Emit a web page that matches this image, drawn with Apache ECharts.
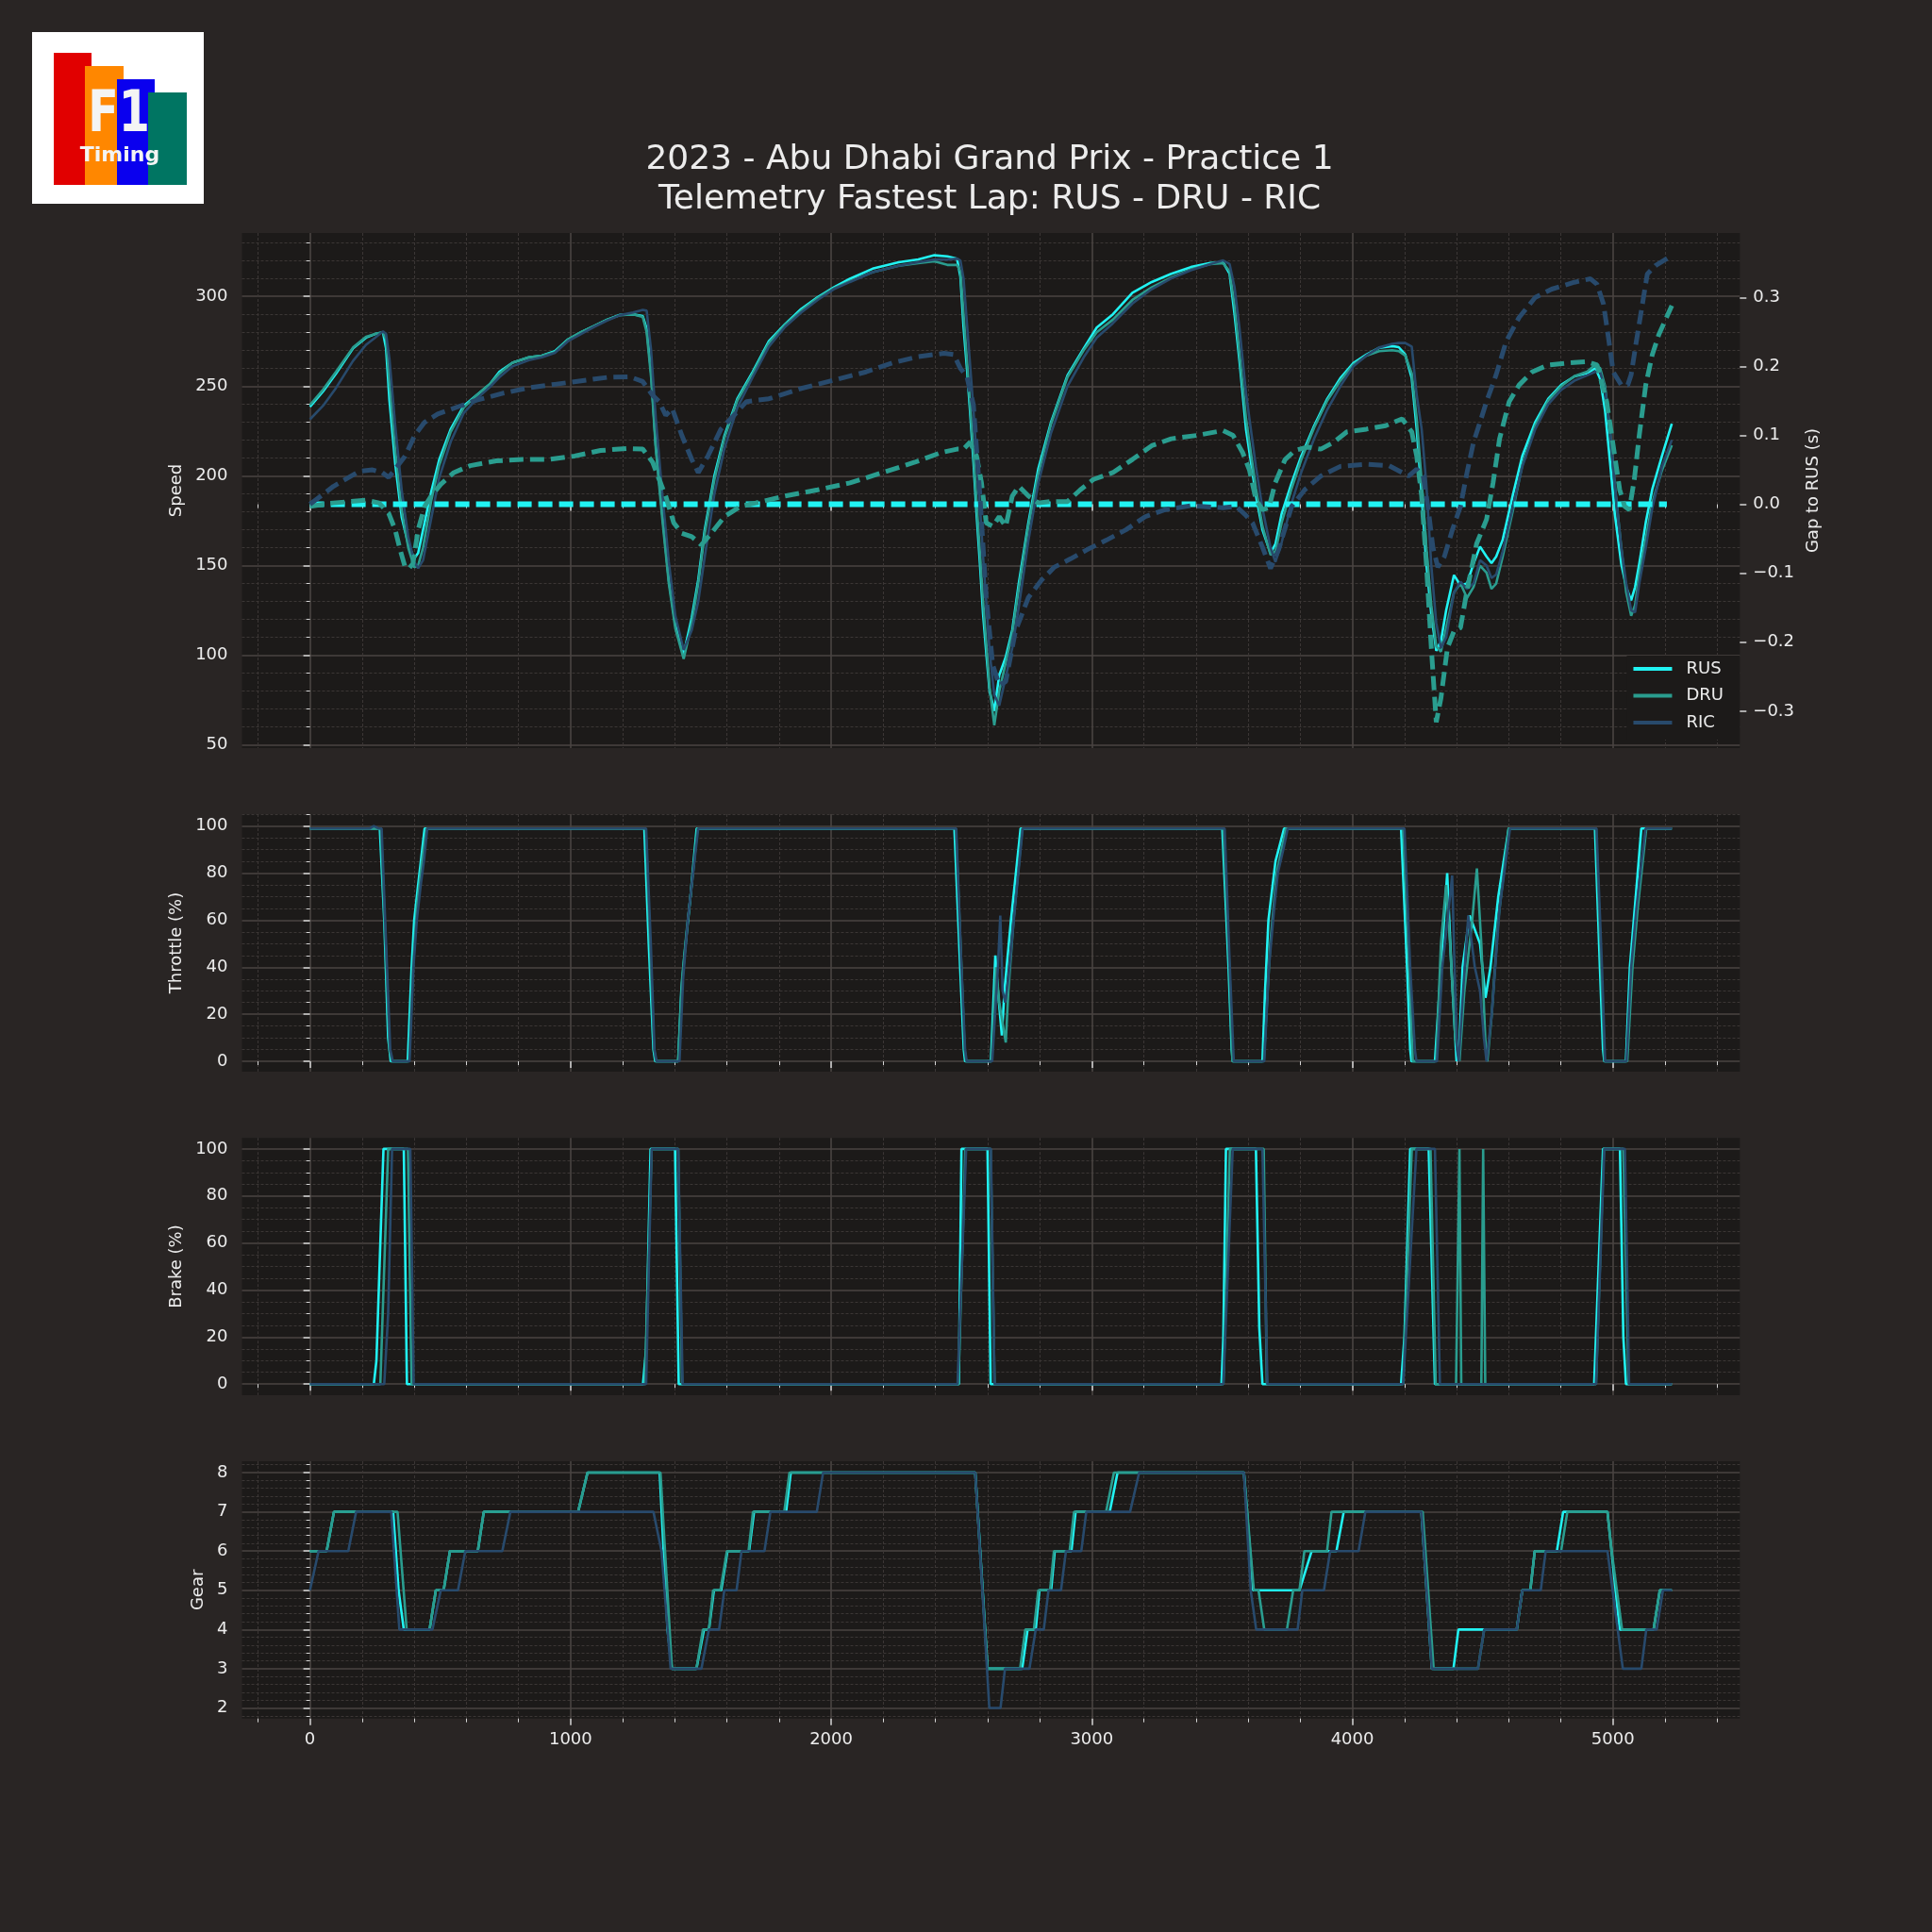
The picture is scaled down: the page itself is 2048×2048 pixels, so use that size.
<!DOCTYPE html>
<html><head><meta charset="utf-8">
<script src="https://cdn.jsdelivr.net/npm/echarts@6/dist/echarts.min.js"></script>
<style>html,body{margin:0;padding:0;background:#292524;}#c{width:2048px;height:2048px;}</style>
</head><body><div id="c"></div>
<script>
// ---------------- DATA ----------------
const drivers = ['RUS', 'DRU', 'RIC'];
const titleLines = ['2023 - Abu Dhabi Grand Prix - Practice 1', 'Telemetry Fastest Lap: RUS - DRU - RIC'];
const axisNames = ['Speed', 'Gap to RUS (s)', 'Throttle (%)', 'Brake (%)', 'Gear'];
const distTicks = [0, 1000, 2000, 3000, 4000, 5000];
const speedTicks = [50, 100, 150, 200, 250, 300];
const gapTicks = [-0.3, -0.2, -0.1, 0, 0.1, 0.2, 0.3];
const pctTicks = [0, 20, 40, 60, 80, 100];
const gearTicks = [2, 3, 4, 5, 6, 7, 8];

const speedDist = [0,50,100,165,215,250,280,292,305,327,
  352,377,400,415,434,465,496,540,590,640,
  690,727,777,840,890,940,990,1040,1090,1140,
  1190,1240,1277,1292,1309,1327,1352,1377,1402,1434,
  1465,1490,1515,1552,1590,1640,1699,1761,1823,1885,
  1948,2010,2072,2159,2259,2334,2396,2446,2483,2496,
  2508,2521,2533,2546,2558,2571,2583,2596,2608,2626,
  2645,2670,2695,2720,2757,2795,2844,2907,2969,3019,
  3081,3156,3230,3305,3380,3455,3504,3529,3548,3567,
  3592,3630,3655,3686,3705,3729,3767,3804,3854,3904,
  3954,4004,4054,4103,4153,4178,4203,4228,4247,4266,
  4284,4303,4322,4340,4360,4390,4415,4440,4465,4490,
  4515,4534,4552,4577,4615,4652,4702,4752,4802,4852,
  4901,4933,4951,4970,4989,5007,5032,5051,5070,5085,
  5101,5126,5151,5188,5226];
const rusSpeed = [238.5,247,257,271,277,279,280,271,242,207,
  177,162,154,157,170,191,209,226,239,245,
  251,258,263,266,267,269.5,276,280,283.5,287,
  289.7,290,289,282,258,217,179,142,117,100.6,
  121,142,170,200,222,243,258,275,284.5,293,
  299.5,305,309.8,315.4,319,320.6,322.9,322.3,321,311,
  283,260,236,208,179,151,123,100,80,69,
  89,99,114,140,174,204,230,256,271,282.6,
  290,302,308,312.6,316.3,318.6,319,312.6,290,264,
  226,189,170,157,162,179,196,211,228,243,
  254.4,262.9,267.6,271.3,272.3,271.7,267.6,254.4,226,189,
  151,123,102.5,108,125,144.7,139,140,151,160.6,
  155,151.3,155,164.4,188.8,211,230,243,250.7,255.4,
  257.2,260,254,236,207.5,179,151,138,130.6,138,
  151,174,192.5,211,229];
const druSpeed = [239.5,248,258,271.5,277.5,279,280,276,252,214,
  181,160,149,150,160,186,206,224.5,238,245,
  251,257,263,266,267,269,276,280,283.5,287,
  289.5,290,288.5,280,255,215,176,140,115,98,
  118,140,168,198,221,242,257,274,284,292,
  299,304.5,308.5,313.5,317,318.5,319.5,317.5,317.5,314,
  290,265,240,213,185,157,130,105,82,61,
  80,96,112,137,172,201,229,255,270,280,
  287,298,305,310.5,315,318,318.5,314,295,268,
  232,193,172,156,158,174,193,209,227,242,
  253,262,267,269.5,270,269.5,267,257,232,197,
  160,128,105,102,115,135,140,132,138,150,
  146,137,140,155,180,206,228,242,250,255.5,
  258,262,260,250,225,195,160,135,122,128,
  145,165,185,203,217];
const ricSpeed = [231.5,239,249,264,273,277,280.5,279,265,228,
  192,166,152,148.5,153,176,199,219,235,243,
  249.5,255,261,264.5,266,268.5,275,279,283,286.5,
  289.5,291,292.5,292,270,232,190,152,122,103,
  114,130,155,190,215,238,255,272,283,291,
  298,304,308,313.5,317,319,320.5,320.5,321,320,
  310,285,262,237,210,183,155,128,102,78,
  72,88,104,127,164,196,224,250,266,277,
  285,296,304,310,314.5,318,320,318,305,282,
  246,205,182,160,152,163,185,202,221,237,
  250,261,267,271.5,273.5,274,274,272,245,226,
  195,150,118,104,110,135,141,137,140,153,
  150,143,145,158,182,205,226,240,248,253,
  256,258,258,248,225,195,160,140,125,124,
  140,160,182,205,220];

const rusGap = [[0,0],[5207,0]];
const druGap = [[0,-0.003],[90,0.002],[215,0.006],[265,0.002],[302,-0.013],[327,-0.037],[346,-0.066],[365,-0.091],[380,-0.093],[395,-0.086],[415,-0.037],[440,-0.003],[465,0.012],[502,0.029],[552,0.046],[615,0.056],[715,0.063],[815,0.065],[915,0.065],[1015,0.07],[1115,0.078],[1215,0.081],[1277,0.08],[1315,0.061],[1340,0.036],[1365,0.012],[1396,-0.027],[1427,-0.042],[1465,-0.047],[1502,-0.059],[1540,-0.042],[1590,-0.018],[1652,-0.003],[1711,0.002],[1823,0.012],[1948,0.021],[2072,0.031],[2197,0.046],[2321,0.061],[2421,0.075],[2483,0.08],[2508,0.08],[2533,0.09],[2558,0.07],[2577,0.031],[2595,-0.027],[2620,-0.032],[2645,-0.018],[2670,-0.032],[2695,0.012],[2720,0.026],[2757,0.012],[2795,0.002],[2844,0.004],[2907,0.004],[2956,0.021],[3006,0.036],[3081,0.046],[3156,0.065],[3230,0.085],[3305,0.095],[3405,0.1],[3504,0.107],[3542,0.1],[3579,0.075],[3605,0.05],[3630,0.007],[3655,-0.008],[3680,-0.005],[3704,0.031],[3742,0.065],[3779,0.078],[3829,0.083],[3879,0.08],[3929,0.09],[3979,0.105],[4054,0.109],[4128,0.114],[4191,0.124],[4228,0.105],[4247,0.07],[4266,0.012],[4284,-0.086],[4303,-0.208],[4322,-0.316],[4340,-0.281],[4365,-0.208],[4390,-0.184],[4415,-0.179],[4440,-0.125],[4477,-0.057],[4515,-0.022],[4540,0.031],[4565,0.095],[4602,0.149],[4640,0.173],[4690,0.192],[4752,0.202],[4827,0.205],[4901,0.207],[4939,0.202],[4976,0.149],[5001,0.085],[5026,0.021],[5045,-0.003],[5063,-0.008],[5082,0.036],[5101,0.1],[5126,0.173],[5151,0.217],[5176,0.246],[5226,0.288]];
const ricGap = [[0,0],[90,0.026],[190,0.048],[240,0.05],[277,0.046],[302,0.039],[327,0.051],[365,0.07],[402,0.1],[440,0.119],[490,0.131],[565,0.141],[640,0.151],[740,0.161],[840,0.169],[940,0.174],[1040,0.179],[1140,0.184],[1227,0.185],[1277,0.178],[1315,0.158],[1340,0.149],[1365,0.129],[1390,0.139],[1427,0.1],[1465,0.065],[1490,0.046],[1527,0.07],[1577,0.109],[1627,0.129],[1675,0.149],[1761,0.153],[1885,0.168],[2010,0.18],[2134,0.192],[2234,0.205],[2334,0.214],[2433,0.219],[2471,0.217],[2496,0.197],[2521,0.185],[2546,0.144],[2571,0.012],[2595,-0.135],[2620,-0.233],[2645,-0.262],[2670,-0.257],[2707,-0.184],[2757,-0.135],[2807,-0.11],[2857,-0.091],[2919,-0.079],[2981,-0.066],[3056,-0.052],[3131,-0.037],[3205,-0.018],[3280,-0.008],[3380,-0.002],[3504,-0.005],[3554,-0.003],[3589,-0.015],[3617,-0.027],[3655,-0.062],[3686,-0.093],[3717,-0.066],[3767,-0.003],[3817,0.021],[3879,0.041],[3954,0.055],[4054,0.058],[4141,0.056],[4191,0.046],[4216,0.041],[4247,0.051],[4272,0.041],[4290,-0.003],[4309,-0.062],[4328,-0.091],[4353,-0.076],[4384,-0.037],[4415,-0.003],[4440,0.046],[4465,0.09],[4490,0.119],[4515,0.149],[4552,0.188],[4590,0.236],[4640,0.271],[4702,0.3],[4765,0.312],[4852,0.322],[4914,0.327],[4939,0.319],[4964,0.29],[4983,0.241],[5001,0.192],[5032,0.173],[5057,0.173],[5070,0.188],[5088,0.232],[5113,0.29],[5132,0.334],[5163,0.346],[5226,0.361]];

const rusThrottle = [[0,99],[268,99],[285,60],[300,10],[310,0],[375,0],[390,40],[400,60],[415,75],[440,99],[1283,99],[1300,50],[1318,5],[1325,0],[1413,0],[1425,30],[1437,45],[1460,70],[1484,99],[2473,99],[2495,40],[2509,5],[2514,0],[2613,0],[2630,45],[2640,30],[2655,11],[2665,30],[2690,60],[2727,99],[3501,99],[3525,40],[3537,5],[3541,0],[3655,0],[3665,30],[3678,60],[3705,85],[3738,99],[4187,99],[4210,40],[4222,5],[4227,0],[4317,0],[4340,40],[4364,80],[4380,40],[4400,0],[4412,10],[4423,40],[4450,62],[4490,50],[4511,27],[4530,40],[4560,70],[4600,99],[4931,99],[4950,40],[4962,5],[4967,0],[5050,0],[5065,40],[5080,60],[5095,80],[5109,99],[5226,99]];
const druThrottle = [[0,99],[272,99],[290,50],[305,5],[315,0],[380,0],[395,40],[410,65],[430,85],[447,99],[1288,99],[1305,50],[1320,5],[1328,0],[1413,0],[1428,35],[1445,55],[1465,75],[1487,99],[2478,99],[2500,40],[2512,5],[2518,0],[2615,0],[2633,40],[2645,25],[2670,8],[2680,30],[2700,60],[2733,99],[3505,99],[3528,40],[3540,0],[3660,0],[3685,50],[3710,80],[3745,99],[4195,99],[4218,40],[4232,0],[4322,0],[4340,50],[4360,75],[4375,50],[4395,10],[4411,0],[4430,30],[4460,60],[4478,82],[4495,50],[4510,10],[4518,0],[4535,20],[4560,60],[4600,99],[4935,99],[4955,40],[4968,0],[5055,0],[5075,40],[5095,65],[5128,99],[5226,99]];
const ricThrottle = [[0,99],[230,99],[245,100],[262,99],[275,99],[292,50],[308,5],[318,0],[382,0],[397,40],[410,60],[425,75],[437,85],[450,99],[1290,99],[1308,50],[1322,5],[1330,0],[1418,0],[1432,35],[1450,60],[1470,80],[1490,99],[2480,99],[2500,40],[2514,5],[2520,0],[2618,0],[2640,40],[2649,62],[2658,30],[2668,25],[2680,35],[2705,65],[2735,99],[3510,99],[3530,40],[3545,0],[3662,0],[3680,40],[3700,65],[3714,80],[3735,90],[3752,99],[4200,99],[4222,40],[4240,5],[4246,0],[4325,0],[4345,40],[4370,65],[4383,79],[4392,40],[4402,5],[4408,0],[4425,30],[4445,62],[4470,40],[4490,30],[4505,10],[4515,0],[4535,20],[4565,65],[4605,99],[4937,99],[4958,40],[4970,0],[5052,0],[5070,40],[5090,65],[5110,85],[5125,99],[5226,99]];

const rusBrake = [[0,0],[245,0],[255,10],[282,100],[360,100],[372,0],[1278,0],[1290,15],[1307,100],[1401,100],[1415,0],[2490,0],[2500,100],[2600,100],[2612,0],[3498,0],[3505,20],[3515,100],[3630,100],[3643,24],[3655,0],[4187,0],[4200,20],[4222,100],[4293,100],[4317,0],[4928,0],[4945,50],[4962,100],[5027,100],[5040,20],[5050,0],[5226,0]];
const druBrake = [[0,0],[270,0],[300,100],[376,100],[390,0],[1285,0],[1311,100],[1413,100],[1428,0],[2488,0],[2515,100],[2612,100],[2627,0],[3505,0],[3530,100],[3660,100],[3672,0],[4195,0],[4228,100],[4300,100],[4320,0],[4398,0],[4411,100],[4418,0],[4495,0],[4502,100],[4510,0],[4935,0],[4965,100],[5040,100],[5060,0],[5226,0]];
const ricBrake = [[0,0],[285,0],[300,30],[315,100],[385,100],[398,0],[1290,0],[1311,100],[1413,100],[1430,0],[2485,0],[2518,100],[2613,100],[2627,0],[3505,0],[3541,100],[3655,100],[3674,0],[4195,0],[4246,100],[4317,100],[4336,0],[4935,0],[4967,100],[5046,100],[5062,0],[5226,0]];

const rusGear = [[0,6],[64,6],[92,7],[319,7],[340,5],[360,4],[459,4],[483,5],[513,5],[537,6],[644,6],[667,7],[1029,7],[1065,8],[1342,8],[1372,4],[1389,3],[1483,3],[1512,4],[1531,4],[1550,5],[1578,5],[1602,6],[1685,6],[1704,7],[1827,7],[1845,8],[2553,8],[2600,3],[2733,3],[2754,4],[2785,4],[2799,5],[2844,5],[2858,6],[2922,6],[2938,7],[3069,7],[3099,8],[3584,8],[3619,5],[3797,5],[3844,6],[3939,6],[3967,7],[4265,7],[4305,3],[4388,3],[4407,4],[4631,4],[4652,5],[4683,5],[4700,6],[4785,6],[4809,7],[4979,7],[5026,4],[5156,4],[5180,5],[5226,5]];
const druGear = [[0,6],[64,6],[92,7],[336,7],[371,4],[459,4],[483,5],[513,5],[537,6],[644,6],[667,7],[1029,7],[1065,8],[1345,8],[1389,3],[1483,3],[1508,4],[1531,4],[1547,5],[1575,5],[1600,6],[1683,6],[1700,7],[1820,7],[1840,8],[2553,8],[2600,3],[2725,3],[2745,4],[2778,4],[2795,5],[2840,5],[2855,6],[2915,6],[2932,7],[3055,7],[3085,8],[3584,8],[3622,5],[3640,5],[3662,4],[3749,4],[3773,5],[3797,5],[3816,6],[3903,6],[3920,7],[4270,7],[4312,3],[4482,3],[4506,4],[4631,4],[4652,5],[4683,5],[4700,6],[4801,6],[4825,7],[4979,7],[4995,6],[5035,4],[5156,4],[5180,5],[5226,5]];
const ricGear = [[0,5],[33,6],[147,6],[177,7],[312,7],[343,4],[470,4],[502,5],[568,5],[596,6],[738,6],[769,7],[1318,7],[1349,6],[1384,3],[1502,3],[1531,4],[1570,4],[1590,5],[1637,5],[1656,6],[1744,6],[1767,7],[1945,7],[1969,8],[2553,8],[2607,2],[2650,2],[2667,3],[2761,3],[2785,4],[2816,4],[2834,5],[2882,5],[2901,6],[2960,6],[2979,7],[3147,7],[3182,8],[3584,8],[3610,5],[3631,4],[3790,4],[3808,5],[3891,5],[3915,6],[4024,6],[4050,7],[4265,7],[4305,3],[4482,3],[4506,4],[4631,4],[4652,5],[4723,5],[4742,6],[4979,6],[5038,3],[5109,3],[5128,4],[5168,4],[5192,5],[5226,5]];

// ---------------- STYLE / LAYOUT ----------------
const COLORS = {RUS: '#21f3f3', DRU: '#2a9d8f', RIC: '#284a6c'};
const FONT = 'DejaVu Sans';
const TXT = '#ececec';
const GRID_MAJOR = '#4a4442';
const GRID_MINOR = '#3b3635';
const TICK = '#d6d6d6';
const X_MIN = -261, X_MAX = 5487;

const grids = [
  {left: 256.5, right: 203.7, top: 247, height: 546},
  {left: 256.5, right: 203.7, top: 863, height: 273},
  {left: 256.5, right: 203.7, top: 1206.2, height: 272.7},
  {left: 256.5, right: 203.7, top: 1549, height: 272.7}
].map(g => Object.assign(g, {show: true, backgroundColor: '#1c1a19', borderWidth: 0, containLabel: false}));

function xAxisFor(i, labels) {
  return {
    type: 'value', gridIndex: i, min: X_MIN, max: X_MAX,
    axisLine: {show: false},
    axisTick: {show: true, length: 7, inside: false, customValues: distTicks, lineStyle: {color: TICK, width: 1.5}},
    axisLabel: {show: labels, customValues: distTicks, color: TXT, fontSize: 18, fontFamily: FONT, margin: 14,
      formatter: v => String(Math.round(v))},
    minorTick: {show: true, splitNumber: 5, length: 4, lineStyle: {color: TICK, width: 1}},
    splitLine: {show: true, lineStyle: {color: GRID_MAJOR, width: 1.6}},
    minorSplitLine: {show: true, lineStyle: {color: GRID_MINOR, width: 1, type: [3, 2]}}
  };
}
function yAxisFor(i, min, max, ticks, minorSplit, name, nameGap) {
  return {
    type: 'value', gridIndex: i, min: min, max: max, position: 'left',
    name: name, nameLocation: 'middle', nameRotate: 90, nameGap: nameGap,
    nameTextStyle: {color: TXT, fontSize: 18, fontFamily: FONT},
    axisLine: {show: false},
    axisTick: {show: true, length: 7, customValues: ticks, lineStyle: {color: TICK, width: 1.5}},
    axisLabel: {show: true, customValues: ticks, color: TXT, fontSize: 18, fontFamily: FONT, margin: 15,
      formatter: v => String(Math.round(v))},
    minorTick: {show: true, splitNumber: minorSplit, length: 4, lineStyle: {color: TICK, width: 1}},
    splitLine: {show: true, lineStyle: {color: GRID_MAJOR, width: 1.6}},
    minorSplitLine: {show: true, lineStyle: {color: GRID_MINOR, width: 1, type: [3, 2]}}
  };
}
const gapAxis = {
  type: 'value', gridIndex: 0, min: -0.3535, max: 0.3934, position: 'right',
  name: axisNames[1], nameLocation: 'middle', nameRotate: 90, nameGap: 56,
  nameTextStyle: {color: TXT, fontSize: 18, fontFamily: FONT},
  axisLine: {show: false},
  axisTick: {show: true, length: 7, customValues: gapTicks, lineStyle: {color: TICK, width: 1.5}},
  axisLabel: {show: true, customValues: gapTicks, color: TXT, fontSize: 18, fontFamily: FONT, margin: 14,
    formatter: v => { const r = Math.round(v * 10) / 10; return (r < 0 ? '\u2212' : '') + Math.abs(r).toFixed(1); }},
  minorTick: {show: false},
  splitLine: {show: false},
  minorSplitLine: {show: false}
};

const zip = (xs, ys) => xs.map((x, i) => [x, ys[i]]);
function line(name, data, xi, yi, width, dashed) {
  return {
    type: 'line', name: name, xAxisIndex: xi, yAxisIndex: yi, data: data,
    showSymbol: false, symbol: 'none', smooth: false, silent: true,
    lineStyle: {color: COLORS[name], width: width, type: dashed ? [15, 7] : 'solid', cap: 'butt'},
    itemStyle: {color: COLORS[name]}
  };
}

const speedVals = {RUS: rusSpeed, DRU: druSpeed, RIC: ricSpeed};
const gapVals = {RUS: rusGap, DRU: druGap, RIC: ricGap};
const thrVals = {RUS: rusThrottle, DRU: druThrottle, RIC: ricThrottle};
const brkVals = {RUS: rusBrake, DRU: druBrake, RIC: ricBrake};
const gearVals = {RUS: rusGear, DRU: druGear, RIC: ricGear};

const series = [];
drivers.forEach(d => series.push(line(d, zip(speedDist, speedVals[d]), 0, 0, 2.6, false)));
drivers.forEach(d => series.push(line(d, gapVals[d], 0, 1, d === 'RUS' ? 6 : 5, true)));
drivers.forEach(d => series.push(line(d, thrVals[d], 1, 2, 2.6, false)));
drivers.forEach(d => series.push(line(d, brkVals[d], 2, 3, 2.6, false)));
drivers.forEach(d => series.push(line(d, gearVals[d], 3, 4, 2.6, false)));

const logo = {
  type: 'group', silent: true,
  children: [
    {type: 'rect', shape: {x: 34, y: 34, width: 182, height: 182}, style: {fill: '#ffffff'}},
    {type: 'rect', shape: {x: 57, y: 56, width: 40, height: 140}, style: {fill: '#e10000'}},
    {type: 'rect', shape: {x: 90, y: 70, width: 41, height: 126}, style: {fill: '#ff8700'}},
    {type: 'rect', shape: {x: 124, y: 84, width: 40, height: 112}, style: {fill: '#0a00ee'}},
    {type: 'rect', shape: {x: 157, y: 98, width: 41, height: 98}, style: {fill: '#007562'}},
    {type: 'text', x: 126, y: 123, scaleX: 0.78,
      style: {text: 'F1', fill: '#f4f4f4', font: 'bold 61px "DejaVu Sans"', align: 'center', verticalAlign: 'middle'}},
    {type: 'text', x: 127, y: 165,
      style: {text: 'Timing', fill: '#f4f4f4', font: 'bold 22px "DejaVu Sans"', align: 'center', verticalAlign: 'middle'}}
  ]
};
const titles = titleLines.map((t, i) => ({
  type: 'text', x: 1049, y: 170 + i * 42, silent: true,
  style: {text: t, fill: TXT, font: '36px "DejaVu Sans"', align: 'center', verticalAlign: 'middle'}
}));

const option = {
  backgroundColor: '#292524',
  animation: false,
  grid: grids,
  xAxis: [xAxisFor(0, false), xAxisFor(1, false), xAxisFor(2, false), xAxisFor(3, true)],
  yAxis: [
    yAxisFor(0, 48.3, 335.3, speedTicks, 5, axisNames[0], 59),
    gapAxis,
    yAxisFor(1, -4.4, 105.1, pctTicks, 4, axisNames[2], 60),
    yAxisFor(2, -4.7, 104.7, pctTicks, 4, axisNames[3], 60),
    yAxisFor(3, 1.73, 8.29, gearTicks, 5, axisNames[4], 35)
  ],
  legend: {
    data: drivers, orient: 'vertical', right: 204, top: 695,
    icon: 'rect', itemWidth: 41, itemHeight: 4, itemGap: 10.5,
    padding: [5, 17, 9, 7], backgroundColor: '#1c1a19',
    textStyle: {color: TXT, fontSize: 18, fontFamily: FONT, lineHeight: 18, padding: [0, 0, 0, 10]},
    selectedMode: false
  },
  graphic: [logo].concat(titles),
  series: series
};
const chart = echarts.init(document.getElementById('c'), null, {renderer: 'canvas', width: 2048, height: 2048});
chart.setOption(option);
</script></body></html>
